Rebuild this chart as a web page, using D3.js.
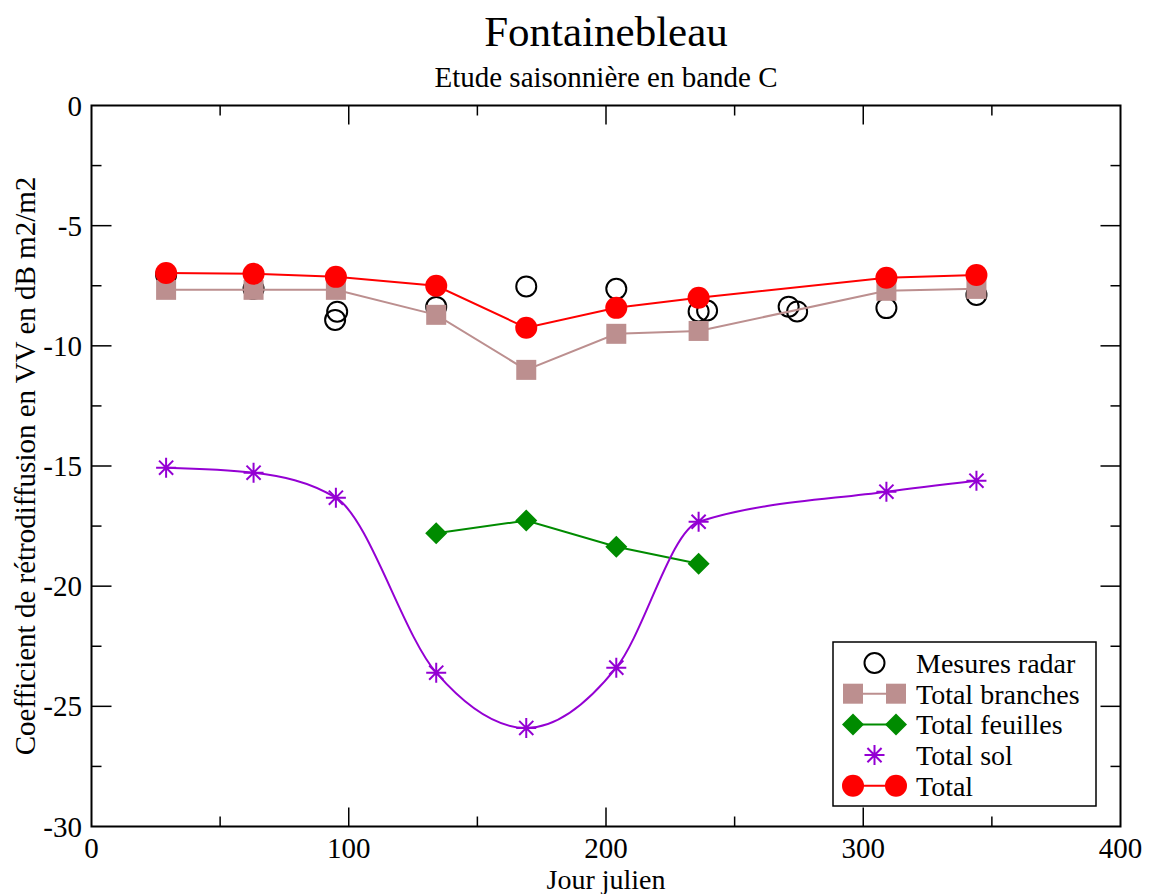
<!DOCTYPE html>
<html><head><meta charset="utf-8">
<script src="https://cdn.jsdelivr.net/npm/d3@7"></script>
<style>body{margin:0;background:#fff}svg{display:block}text{font-family:"Liberation Serif","Times New Roman",serif;fill:#000}</style>
</head><body><svg id="c" width="1149" height="894"></svg>
<script>
// Data
const days = [29, 63, 95, 134, 169, 204, 236, 309, 344];
const totalVals = [-6.97, -7.0, -7.13, -7.5, -9.25, -8.42, -8.0, -7.17, -7.05];
const branchesVals = [-7.67, -7.67, -7.67, -8.71, -11.0, -9.5, -9.38, -7.71, -7.63];
const feuillesDays = [134, 169, 204, 236];
const feuillesVals = [-17.8, -17.27, -18.36, -19.07];
const solVals = [-15.07, -15.28, -16.32, -23.6, -25.9, -23.39, -17.32, -16.07, -15.61];
const radarDays = [29, 63, 95.5, 94.7, 134, 169, 204, 236, 239.3, 271, 274.3, 309, 344];
const radarVals = [-7.05, -7.63, -8.58, -8.92, -8.38, -7.53, -7.63, -8.57, -8.53, -8.37, -8.57, -8.43, -7.88];
const xTicks = [0, 100, 200, 300, 400];
const yTicks = [0, -5, -10, -15, -20, -25, -30];
const legendLabels = ["Mesures radar", "Total branches", "Total feuilles", "Total sol", "Total"];

const svg = d3.select("#c");
const L = 91.5, R = 1120.5, T = 105.5, B = 826.5;
const x = d3.scaleLinear().domain([0, 400]).range([L, R]);
const y = d3.scaleLinear().domain([-30, 0]).range([B, T]);

const cRed = "#ff0000", cBrown = "#bc8f8f", cGreen = "#008b00", cViolet = "#9400d3";

// Axes frame
svg.append("rect").attr("x", L).attr("y", T).attr("width", R - L).attr("height", B - T)
  .attr("fill", "none").attr("stroke", "#000").attr("stroke-width", 2);

// ticks
const g = svg.append("g").attr("stroke", "#000").attr("stroke-width", 1.5);
d3.range(0, 401, 50).forEach(v => {
  const len = v % 100 === 0 ? 19 : 10;
  if (v === 0 || v === 400) return;
  g.append("line").attr("x1", x(v)).attr("x2", x(v)).attr("y1", B).attr("y2", B - len);
  g.append("line").attr("x1", x(v)).attr("x2", x(v)).attr("y1", T).attr("y2", T + len);
});
d3.range(-30, 0.1, 2.5).forEach(v => {
  const len = v % 5 === 0 ? 20 : 10;
  if (v === 0 || v === -30) return;
  g.append("line").attr("y1", y(v)).attr("y2", y(v)).attr("x1", L).attr("x2", L + len);
  g.append("line").attr("y1", y(v)).attr("y2", y(v)).attr("x1", R).attr("x2", R - len);
});

// tick labels
svg.selectAll(".xt").data(xTicks).enter().append("text")
  .attr("x", d => x(d)).attr("y", 858).attr("text-anchor", "middle")
  .attr("font-size", 29).text(d => d);
svg.selectAll(".yt").data(yTicks).enter().append("text")
  .attr("x", 82).attr("y", d => y(d) + 10).attr("text-anchor", "end")
  .attr("font-size", 29).text(d => d);

// titles
svg.append("text").attr("x", (L + R) / 2).attr("y", 46).attr("text-anchor", "middle")
  .attr("font-size", 43).text("Fontainebleau");
svg.append("text").attr("x", (L + R) / 2).attr("y", 87).attr("text-anchor", "middle")
  .attr("font-size", 29).text("Etude saisonnière en bande C");
svg.append("text").attr("x", (L + R) / 2).attr("y", 889).attr("text-anchor", "middle")
  .attr("font-size", 28).text("Jour julien");
svg.append("text").attr("transform", `translate(35,${(T + B) / 2}) rotate(-90)`)
  .attr("text-anchor", "middle").attr("font-size", 29)
  .text("Coefficient de rétrodiffusion en VV en dB m2/m2");

const plot = svg.append("g");
const line = d3.line().x(d => x(d[0])).y(d => y(d[1]));

// radar circles
plot.selectAll(".rad").data(d3.zip(radarDays, radarVals)).enter().append("circle")
  .attr("cx", d => x(d[0])).attr("cy", d => y(d[1])).attr("r", 10)
  .attr("fill", "none").attr("stroke", "#000").attr("stroke-width", 2);

// branches
const bData = d3.zip(days, branchesVals);
plot.append("path").attr("d", line(bData)).attr("fill", "none").attr("stroke", cBrown).attr("stroke-width", 2);
plot.selectAll(".sq").data(bData).enter().append("rect")
  .attr("x", d => x(d[0]) - 10).attr("y", d => y(d[1]) - 10).attr("width", 20).attr("height", 20)
  .attr("fill", cBrown);

// feuilles
const fData = d3.zip(feuillesDays, feuillesVals);
plot.append("path").attr("d", line(fData)).attr("fill", "none").attr("stroke", cGreen).attr("stroke-width", 2);
const diamond = (cx, cy, s) => `M${cx},${cy - s}L${cx + s},${cy}L${cx},${cy + s}L${cx - s},${cy}Z`;
plot.selectAll(".dm").data(fData).enter().append("path")
  .attr("d", d => diamond(x(d[0]), y(d[1]), 11)).attr("fill", cGreen);

// sol
const sData = d3.zip(days, solVals);
plot.append("path").attr("d", d3.line().x(d => x(d[0])).y(d => y(d[1])).curve(d3.curveMonotoneX)(sData))
  .attr("fill", "none").attr("stroke", cViolet).attr("stroke-width", 2);
const star = (cx, cy, s) => {
  const a = s * 0.7071;
  return `M${cx},${cy - s}L${cx},${cy + s}M${cx - s},${cy}L${cx + s},${cy}M${cx - a},${cy - a}L${cx + a},${cy + a}M${cx - a},${cy + a}L${cx + a},${cy - a}`;
};
plot.selectAll(".st").data(sData).enter().append("path")
  .attr("d", d => star(x(d[0]), y(d[1]), 10)).attr("stroke", cViolet).attr("stroke-width", 2).attr("fill", "none");

// total
const tData = d3.zip(days, totalVals);
plot.append("path").attr("d", line(tData)).attr("fill", "none").attr("stroke", cRed).attr("stroke-width", 2);
plot.selectAll(".tc").data(tData).enter().append("circle")
  .attr("cx", d => x(d[0])).attr("cy", d => y(d[1])).attr("r", 11).attr("fill", cRed);

// legend
const lg = svg.append("g");
lg.append("rect").attr("x", 833).attr("y", 642).attr("width", 263).attr("height", 164)
  .attr("fill", "#fff").attr("stroke", "#000").attr("stroke-width", 1.5);
const rowY = i => 663 + i * 30.7;
const sx1 = 853, sx2 = 896;
legendLabels.forEach((lab, i) => {
  const cy = rowY(i);
  lg.append("text").attr("x", 916).attr("y", cy + 10).attr("font-size", 28).text(lab);
  if (i === 0) {
    lg.append("circle").attr("cx", (sx1 + sx2) / 2).attr("cy", cy).attr("r", 10)
      .attr("fill", "none").attr("stroke", "#000").attr("stroke-width", 2);
  } else if (i === 1) {
    lg.append("line").attr("x1", sx1).attr("x2", sx2).attr("y1", cy).attr("y2", cy).attr("stroke", cBrown).attr("stroke-width", 2);
    [sx1, sx2].forEach(sx => lg.append("rect").attr("x", sx - 10).attr("y", cy - 10).attr("width", 20).attr("height", 20).attr("fill", cBrown));
  } else if (i === 2) {
    lg.append("line").attr("x1", sx1).attr("x2", sx2).attr("y1", cy).attr("y2", cy).attr("stroke", cGreen).attr("stroke-width", 2);
    [sx1, sx2].forEach(sx => lg.append("path").attr("d", diamond(sx, cy, 11)).attr("fill", cGreen));
  } else if (i === 3) {
    lg.append("path").attr("d", star((sx1 + sx2) / 2, cy, 10)).attr("stroke", cViolet).attr("stroke-width", 2);
  } else {
    lg.append("line").attr("x1", sx1).attr("x2", sx2).attr("y1", cy).attr("y2", cy).attr("stroke", cRed).attr("stroke-width", 2);
    [sx1, sx2].forEach(sx => lg.append("circle").attr("cx", sx).attr("cy", cy).attr("r", 11).attr("fill", cRed));
  }
});
</script></body></html>
